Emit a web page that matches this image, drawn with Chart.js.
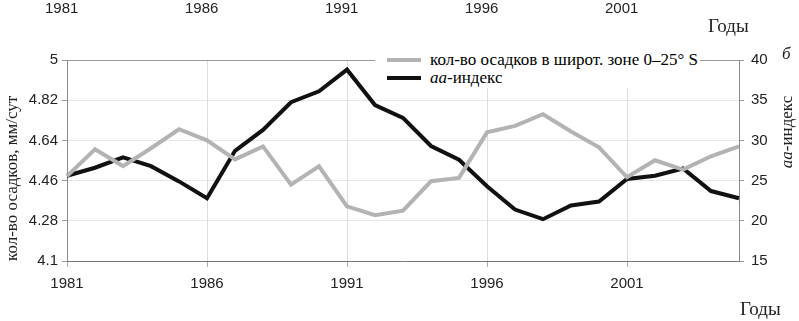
<!DOCTYPE html>
<html>
<head>
<meta charset="utf-8">
<script src="https://cdn.jsdelivr.net/npm/chart.js@4.4.1/dist/chart.umd.min.js"></script>
<style>
  body { margin: 0; background: #fff; }
  #wrap { position: relative; width: 799px; height: 321px; overflow: hidden; }
  canvas { position: absolute; left: 0; top: 0; }
  .lbl { position: absolute; white-space: nowrap; color: #222; }
  .sans { font-family: "Liberation Sans", Arial, sans-serif; font-size: 15px; }
  .serif { font-family: "Liberation Serif", "Times New Roman", serif; font-size: 17px; }
  .big { font-size: 19px; }
  #legend { position: absolute; left: 375px; top: 50px; width: 325px; height: 38px; background: #fff; }
  #legend .row { position: absolute; left: 12px; height: 18px; display: flex; align-items: center; }
  #legend .swatch { width: 34px; height: 4px; margin-right: 9px; }
  #rightTitle { position: absolute; left: 787px; top: 132px; transform: translate(-50%, -50%) rotate(-90deg); }
</style>
</head>
<body>
<div id="wrap">
  <canvas id="chart" width="799" height="321"></canvas>
  <div id="topAxis"></div>
  <div id="legend"></div>
  <div id="rightTitle" class="lbl serif"><i>aa</i>-индекс</div>
  <div class="lbl serif" style="left:782px; top:44px;"><i>б</i></div>
  <div class="lbl serif big" style="left:740px; top:298px;">Годы</div>
</div>
<script>
const years = [1981, 1982, 1983, 1984, 1985, 1986, 1987, 1988, 1989, 1990,
  1991, 1992, 1993, 1994, 1995, 1996, 1997, 1998, 1999, 2000,
  2001, 2002, 2003, 2004, 2005];

// кол-во осадков, мм/сут
const precip = [4.48, 4.60, 4.525, 4.605, 4.69, 4.64, 4.555, 4.613, 4.442, 4.524,
  4.345, 4.305, 4.325, 4.457, 4.472, 4.676, 4.705, 4.757, 4.68, 4.609,
  4.475, 4.551, 4.509, 4.569, 4.613];

// aa-индекс
const aaIndex = [25.6, 26.6, 27.9, 26.8, 24.9, 22.8, 28.7, 31.3, 34.75, 36.1,
  38.8, 34.4, 32.8, 29.3, 27.6, 24.3, 21.4, 20.2, 21.9, 22.4,
  25.2, 25.6, 26.5, 23.7, 22.8];

const leftTicks = [4.1, 4.28, 4.46, 4.64, 4.82, 5];
const rightTicks = [15, 20, 25, 30, 35, 40];
const topYears = ['1981', '1986', '1991', '1996', '2001'];

const seriesNames = ['кол-во осадков в широт. зоне 0–25° S', '<i>aa</i>-индекс'];
const seriesColors = ['#b3b3b3', '#111111'];

// legend drawn in html so it can sit on a white box over the top grid line
const legend = document.getElementById('legend');
seriesNames.forEach((name, i) => {
  const row = document.createElement('div');
  row.className = 'row';
  row.style.top = (i * 18 + 1) + 'px';
  row.innerHTML = `<span class="swatch" style="background:${seriesColors[i]}"></span><span class="serif">${name}</span>`;
  legend.appendChild(row);
});

// leftover year labels from the panel above
const topAxis = document.getElementById('topAxis');
topYears.forEach((y, i) => {
  const d = document.createElement('div');
  d.className = 'lbl sans';
  d.textContent = y;
  d.style.left = (45 + i * 140) + 'px';
  d.style.top = '-1px';
  topAxis.appendChild(d);
});
const topTitle = document.createElement('div');
topTitle.className = 'lbl serif big';
topTitle.textContent = 'Годы';
topTitle.style.left = '708px';
topTitle.style.top = '15px';
topAxis.appendChild(topTitle);

const tickFont = { family: '"Liberation Sans", Arial, sans-serif', size: 15 };

const ctx = document.getElementById('chart').getContext('2d');
new Chart(ctx, {
  type: 'line',
  data: {
    labels: years,
    datasets: [{
      label: 'кол-во осадков в широт. зоне 0–25° S',
      data: precip,
      yAxisID: 'y',
      borderColor: seriesColors[0],
      borderWidth: 4,
      pointRadius: 0,
      tension: 0
    }, {
      label: 'aa-индекс',
      data: aaIndex,
      yAxisID: 'y2',
      borderColor: seriesColors[1],
      borderWidth: 4,
      pointRadius: 0,
      tension: 0
    }]
  },
  options: {
    responsive: false,
    animation: false,
    devicePixelRatio: 1,
    layout: { padding: { top: 60, left: 0, right: 0, bottom: 0 } },
    plugins: {
      legend: { display: false },
      tooltip: { enabled: false }
    },
    scales: {
      x: {
        type: 'category',
        offset: false,
        afterBuildTicks: s => { s.ticks = s.ticks.filter(t => t.value % 5 === 0); },
        afterFit: s => { s.height = 60; },
        ticks: {
          autoSkip: false,
          maxRotation: 0,
          font: tickFont,
          color: '#222',
          padding: 8
        },
        grid: { color: '#dcdcdc', tickLength: 6, tickColor: '#aaa' },
        border: { color: '#777', width: 1 }
      },
      y: {
        position: 'left',
        min: 4.1,
        max: 5,
        afterBuildTicks: s => { s.ticks = leftTicks.map(v => ({ value: v })); },
        afterFit: s => { s.width = 67; },
        ticks: {
          font: tickFont,
          color: '#222',
          padding: 4,
          callback: v => String(v)
        },
        grid: {
          color: c => (c.tick && c.tick.value === 5 ? '#9a9a9a' : '#e6e6e6'),
          tickLength: 5,
          tickColor: '#999'
        },
        border: { color: '#888', width: 1 },
        title: {
          display: true,
          align: 'start',
          text: 'кол-во осадков, мм/сут',
          font: { family: '"Liberation Serif", "Times New Roman", serif', size: 17 },
          color: '#222',
          padding: { top: 2, bottom: 0 }
        }
      },
      y2: {
        position: 'right',
        min: 15,
        max: 40,
        afterBuildTicks: s => { s.ticks = rightTicks.map(v => ({ value: v })); },
        afterFit: s => { s.width = 60; },
        ticks: {
          font: tickFont,
          color: '#222',
          padding: 7
        },
        grid: { drawOnChartArea: false, tickLength: 5, tickColor: '#999' },
        border: { color: '#888', width: 1 }
      }
    }
  }
});
</script>
</body>
</html>
